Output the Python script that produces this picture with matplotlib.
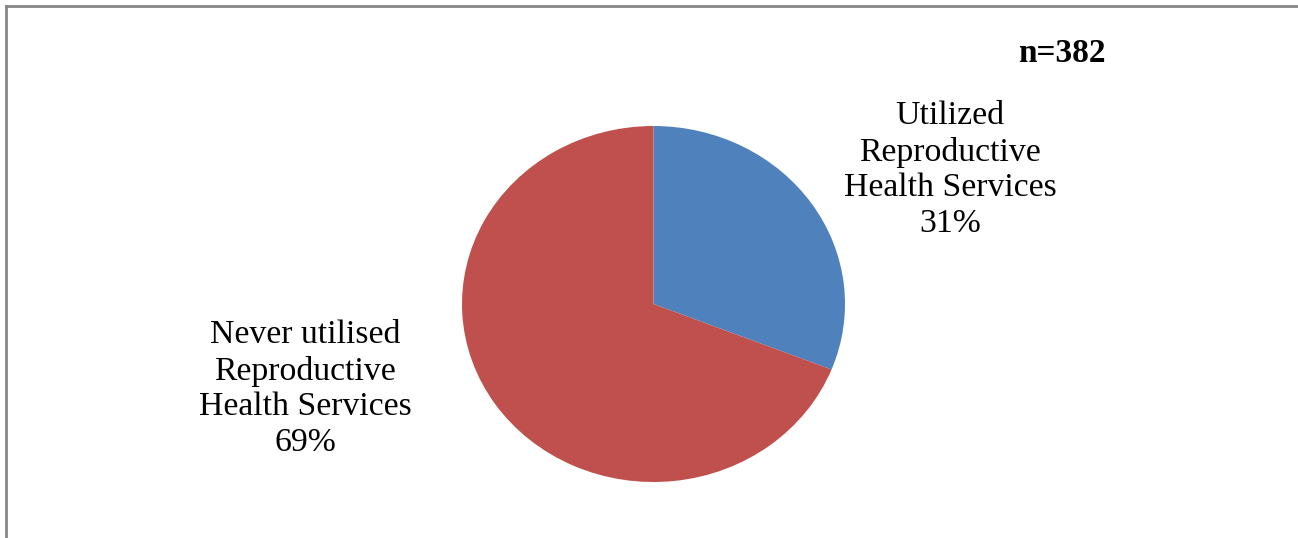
import matplotlib
matplotlib.use('Agg')
import matplotlib.pyplot as plt

# Data
labels = ['Utilized\nReproductive\nHealth Services', 'Never utilised\nReproductive\nHealth Services']
shares = [31, 69]
colors = ['#4F81BD', '#C0504D']
sample_note = 'n=382'

plt.rcParams['font.family'] = ['Liberation Serif', 'DejaVu Serif']

fig = plt.figure(figsize=(12.98, 5.38), dpi=100)

# Pie axes placed over the (slightly oval) pie area of the reference
ax = fig.add_axes([462 / 1298, 1 - 482 / 538, 383 / 1298, 356 / 538])
wedges, _ = ax.pie(shares, colors=colors, startangle=90, counterclock=False,
                   wedgeprops={'linewidth': 0})
for w in wedges:
    w.set_clip_on(False)
ax.set_aspect('auto')
ax.set_xlim(-1, 1)
ax.set_ylim(-1, 1)
ax.axis('off')

# Data labels
fig.text(950 / 1298, 1 - 170 / 538, f'{labels[0]}\n{shares[0]}%', ha='center', va='center',
         fontsize=24.3, linespacing=1.22)
fig.text(305 / 1298, 1 - 389 / 538, f'{labels[1]}\n{shares[1]}%', ha='center', va='center',
         fontsize=24.3, linespacing=1.22)

# Sample size note
fig.text(1062 / 1298, 1 - 54 / 538, sample_note, ha='center', va='center',
         fontsize=24, fontweight='bold')

# Chart frame (only top and left edges visible)
fig.add_artist(plt.Line2D([6 / 1298, 1], [1 - 6 / 538, 1 - 6 / 538], color='#888888', linewidth=2))
fig.add_artist(plt.Line2D([6 / 1298, 6 / 1298], [0, 1 - 6 / 538], color='#888888', linewidth=2))

fig.savefig('out.png', dpi=100)
